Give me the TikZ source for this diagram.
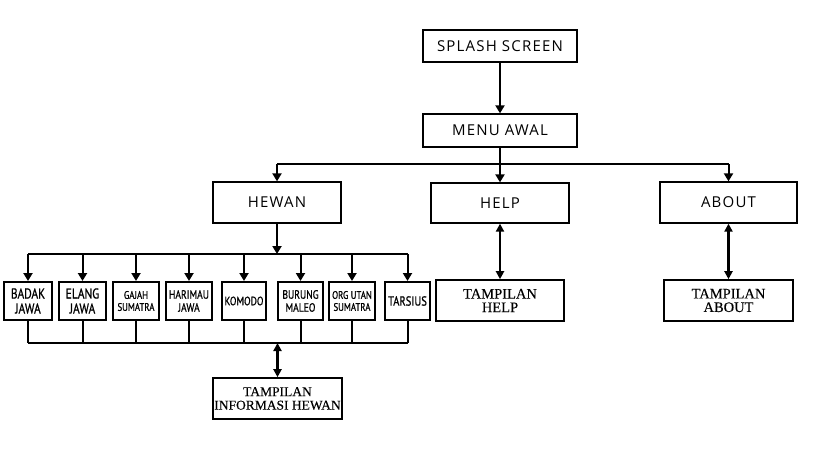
\documentclass[tikz,border=0pt]{standalone}
\usepackage{fontspec}
\setmainfont{Liberation Serif}
\newfontfamily\showfont[FakeBold=0.15]{Liberation Serif}
\newfontfamily\topfont[LetterSpace=8]{Open Sans}
\newfontfamily\animfont[FakeStretch=0.8,FakeBold=0.8]{PT Sans}
\usetikzlibrary{arrows.meta}
\tikzset{
  arrowone/.style={line width=2pt,-{Triangle[length=8pt,width=9pt]}},
  arrowtwo/.style={line width=2.4pt,{Triangle[length=8pt,width=8pt]}-{Triangle[length=8pt,width=8pt]}},
  conn/.style={line width=2pt},
  topbox/.style={draw, line width=1.3pt, inner sep=0pt, align=center,
    font=\topfont\fontsize{15}{17}\selectfont},
  showbox/.style={draw, line width=1.6pt, inner sep=0pt, align=center,
    font=\showfont\fontsize{14.5}{13.5}\selectfont},
  animbox/.style={draw, line width=2pt, inner sep=0pt, align=center,
    minimum height=38pt, font=\animfont\fontsize{14.3}{15}\selectfont},
  smallanim/.style={animbox, font=\animfont\fontsize{11}{12}\selectfont},
  midanim/.style={animbox, font=\animfont\fontsize{12}{13}\selectfont}
}
\begin{document}
\begin{tikzpicture}[x=1pt,y=-1pt]
\useasboundingbox[fill=white] (0,0) rectangle (819,460);

% top level
\node[topbox, minimum width=154pt, minimum height=32pt] (splash) at (500,46) {SPLASH SCREEN};
\node[topbox, minimum width=154pt, minimum height=33pt] (menu) at (500,130.5) {MENU AWAL};
\node[topbox, minimum width=128pt, minimum height=41pt] (hewan) at (277,202.5) {HEWAN};
\node[topbox, minimum width=138pt, minimum height=40pt] (help) at (500,203) {HELP};
\node[topbox, minimum width=137pt, minimum height=41pt] (about) at (728.5,202.5) {ABOUT};

% display boxes
\node[showbox, minimum width=128pt, minimum height=41pt] (thelp) at (500,300.5) {TAMPILAN\\HELP};
\node[showbox, minimum width=129pt, minimum height=41pt] (tabout) at (728.5,300.5) {TAMPILAN\\ABOUT};
\node[showbox, minimum width=129pt, minimum height=41pt, font=\showfont\fontsize{13.5}{13.5}\selectfont] (tinfo) at (277.5,398.5) {TAMPILAN\\INFORMASI HEWAN};

% animals
\node[animbox, minimum width=48pt] (badak) at (28,301) {BADAK\\JAWA};
\node[animbox, minimum width=47pt] (elang) at (82.5,301) {ELANG\\JAWA};
\node[smallanim, minimum width=46pt] (gajah) at (136,301) {GAJAH\\SUMATRA};
\node[midanim, minimum width=46pt] (harimau) at (189,301) {HARIMAU\\JAWA};
\node[midanim, minimum width=44pt] (komodo) at (244,301) {KOMODO};
\node[midanim, minimum width=45pt] (burung) at (300.5,301) {BURUNG\\MALEO};
\node[smallanim, minimum width=46pt] (orgutan) at (352,301) {ORG UTAN\\SUMATRA};
\node[animbox, minimum width=45pt, font=\animfont\fontsize{13.2}{15}\selectfont] (tarsius) at (407.5,301) {TARSIUS};

% bus coordinates
\coordinate (menubus) at (500,164);
\coordinate (animtop) at (274,254);
\coordinate (animbot) at (274,343);

% splash -> menu
\draw[arrowone] (splash.south) -- (menu.north);
% menu -> help, hewan, about
\draw[arrowone] (menu.south) -- (menu.south |- help.north);
\draw[conn] (hewan.north |- menubus) -- (about.north |- menubus);
\draw[arrowone] (hewan.north |- menubus) -- (hewan.north);
\draw[arrowone] (about.north |- menubus) -- (about.north);

% help / about displays
\draw[arrowtwo] (help.south) -- (thelp.north);
\draw[arrowtwo] (about.south) -- (tabout.north);

% hewan -> animals
\draw[arrowone] (hewan.south) -- (hewan.south |- animtop);
\draw[conn] (badak.north |- animtop) -- (tarsius.north |- animtop);
\foreach \n in {badak,elang,gajah,harimau,komodo,burung,orgutan,tarsius}{
  \draw[arrowone] (\n.north |- animtop) -- (\n.north);
  \draw[conn] (\n.south) -- (\n.south |- animbot);
}
\draw[conn] (badak.south |- animbot) -- (tarsius.south |- animbot);
\draw[arrowtwo] (tinfo.north |- animbot) -- (tinfo.north);
\end{tikzpicture}
\end{document}
